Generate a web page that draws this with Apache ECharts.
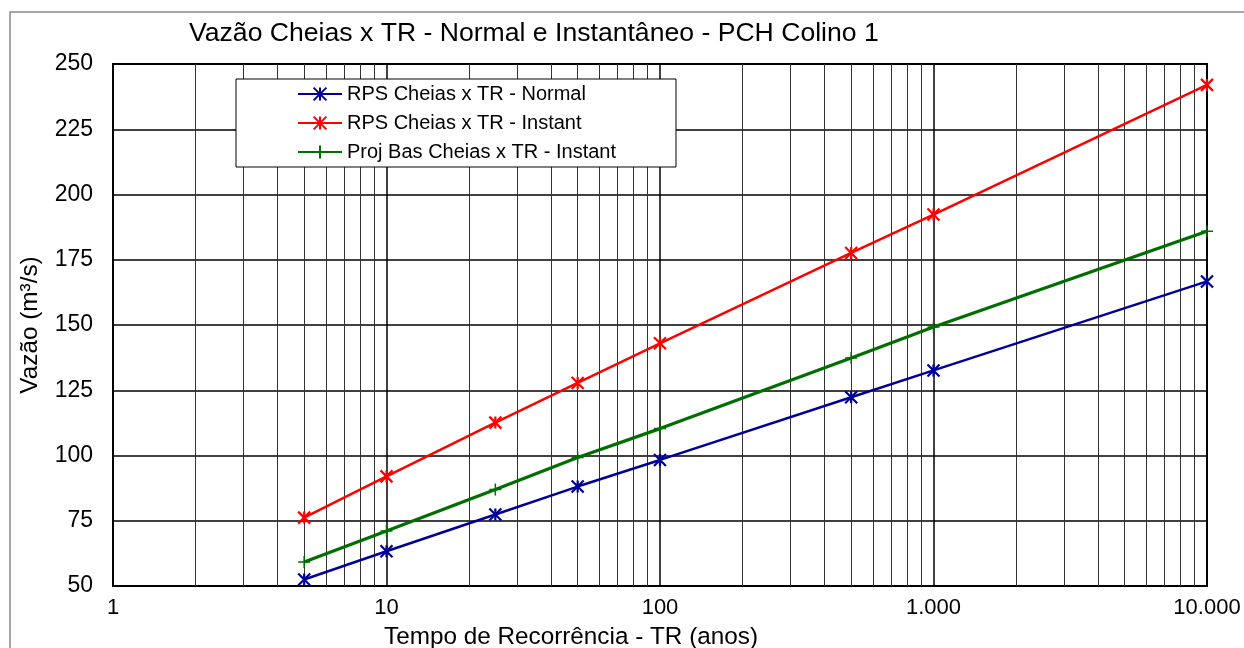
<!DOCTYPE html>
<html>
<head>
<meta charset="utf-8">
<script src="https://cdn.jsdelivr.net/npm/echarts@6/dist/echarts.min.js"></script>
<style>
  html, body { margin: 0; padding: 0; background: #fff; }
  #chart { width: 1244px; height: 648px; }
</style>
</head>
<body>
<div id="chart"></div>
<script>
// tempo de recorrência (anos)
var trYears = [5, 10, 25, 50, 100, 500, 1000, 10000]
// vazões (m³/s)
var rpsNormal = [52.5, 63.3, 77.4, 88.1, 98.3, 122.3, 132.6, 166.7]
var rpsInstant = [76.2, 92.0, 112.6, 127.8, 143.0, 177.6, 192.3, 242.0]
var projInstant = [59.2, 71.1, 87.0, 99.2, 110.3, 137.4, 149.2, 185.9]
// linhas secundárias do eixo log
var minorTicks = [2, 3, 4, 5, 6, 7, 8, 9, 20, 30, 40, 50, 60, 70, 80, 90,
  200, 300, 400, 500, 600, 700, 800, 900, 2000, 3000, 4000, 5000, 6000, 7000, 8000, 9000]

var seriesNames = ['RPS Cheias x TR - Normal', 'RPS Cheias x TR - Instant', 'Proj Bas Cheias x TR - Instant']

var FONT = "'Liberation Sans', Arial, sans-serif"
var starSymbol = 'path://M0,0L10,10M10,0L0,10M5,0L5,10'
var plusSymbol = 'path://M5,0L5,10M0,5L10,5'

function pairs(ys) {
  return trYears.map(function (x, i) {
    return [x, ys[i]]
  })
}

function fmtThousands(v) {
  return String(Math.round(v)).replace(/\B(?=(\d{3})+(?!\d))/g, '.')
}

function initChart() {
  let chart = echarts.init(document.getElementById('chart'))

  var option = {
    animation: false,
    backgroundColor: '#fff',
    title: {
      text: 'Vazão Cheias x TR - Normal e Instantâneo - PCH Colino 1',
      left: 189,
      top: 20,
      padding: 0,
      textStyle: { fontFamily: FONT, fontSize: 26.6, fontWeight: 'normal', color: '#000' },
    },
    graphic: [
      {
        type: 'rect',
        silent: true,
        z: -1,
        shape: { x: 10, y: 12, width: 1300, height: 700 },
        style: { fill: 'none', stroke: '#888', lineWidth: 1.5 },
      },
      {
        type: 'text',
        silent: true,
        style: {
          text: 'Tempo de Recorrência - TR (anos)',
          x: 571,
          y: 637,
          textAlign: 'center',
          textVerticalAlign: 'middle',
          font: '24.3px ' + FONT,
          fill: '#000',
        },
      },
    ],
    legend: {
      orient: 'vertical',
      left: 236,
      top: 79,
      padding: [5, 60, 5, 61],
      itemGap: 9,
      itemWidth: 44,
      itemHeight: 16,
      backgroundColor: '#fff',
      borderColor: '#000',
      borderWidth: 1,
      borderRadius: 0,
      textStyle: { fontFamily: FONT, fontSize: 20, color: '#000' },
      data: seriesNames,
    },
    grid: {
      left: 113,
      right: 37,
      top: 64,
      bottom: 62,
      show: true,
      borderColor: '#000',
      borderWidth: 2,
      backgroundColor: 'transparent',
    },
    xAxis: {
      type: 'log',
      logBase: 10,
      min: 1,
      max: 10000,
      axisLine: { show: false },
      axisTick: { show: false },
      axisLabel: {
        margin: 11,
        fontFamily: FONT,
        fontSize: 22,
        color: '#000',
        formatter: fmtThousands,
      },
      splitLine: { show: true, lineStyle: { color: '#000', width: 1.5 } },
    },
    yAxis: {
      type: 'value',
      min: 50,
      max: 250,
      interval: 25,
      name: 'Vazão (m³/s)',
      nameLocation: 'middle',
      nameGap: 71,
      nameTextStyle: { fontFamily: FONT, fontSize: 24.3, color: '#000' },
      axisLine: { show: false },
      axisTick: { show: false },
      axisLabel: { margin: 20, fontFamily: FONT, fontSize: 23, color: '#000' },
      splitLine: { show: true, lineStyle: { color: '#000', width: 1.5 } },
    },
    series: [
      {
        name: seriesNames[0],
        type: 'line',
        data: pairs(rpsNormal),
        symbol: starSymbol,
        symbolSize: 12,
        lineStyle: { color: '#000099', width: 2.5 },
        itemStyle: { color: '#000099', borderColor: '#000099', borderWidth: 2.2 },
        z: 4,
        markLine: {
          silent: true,
          symbol: ['none', 'none'],
          label: { show: false },
          lineStyle: { type: 'solid', color: '#333', width: 1 },
          emphasis: { disabled: true },
          data: minorTicks.map(function (v) {
            return { xAxis: v }
          }),
          z: 1,
        },
      },
      {
        name: seriesNames[1],
        type: 'line',
        data: pairs(rpsInstant),
        symbol: starSymbol,
        symbolSize: 12,
        lineStyle: { color: '#ff0000', width: 2.5 },
        itemStyle: { color: '#ff0000', borderColor: '#ff0000', borderWidth: 2.2 },
        z: 4,
      },
      {
        name: seriesNames[2],
        type: 'line',
        data: pairs(projInstant),
        symbol: plusSymbol,
        symbolSize: 12,
        lineStyle: { color: '#006e00', width: 3.2 },
        itemStyle: { color: '#006e00', borderColor: '#006e00', borderWidth: 1.5 },
        z: 4,
      },
    ],
  }
  chart.setOption(option)

  window.addEventListener('resize', function () {
    chart.resize()
  })
}

initChart()
</script>
</body>
</html>
